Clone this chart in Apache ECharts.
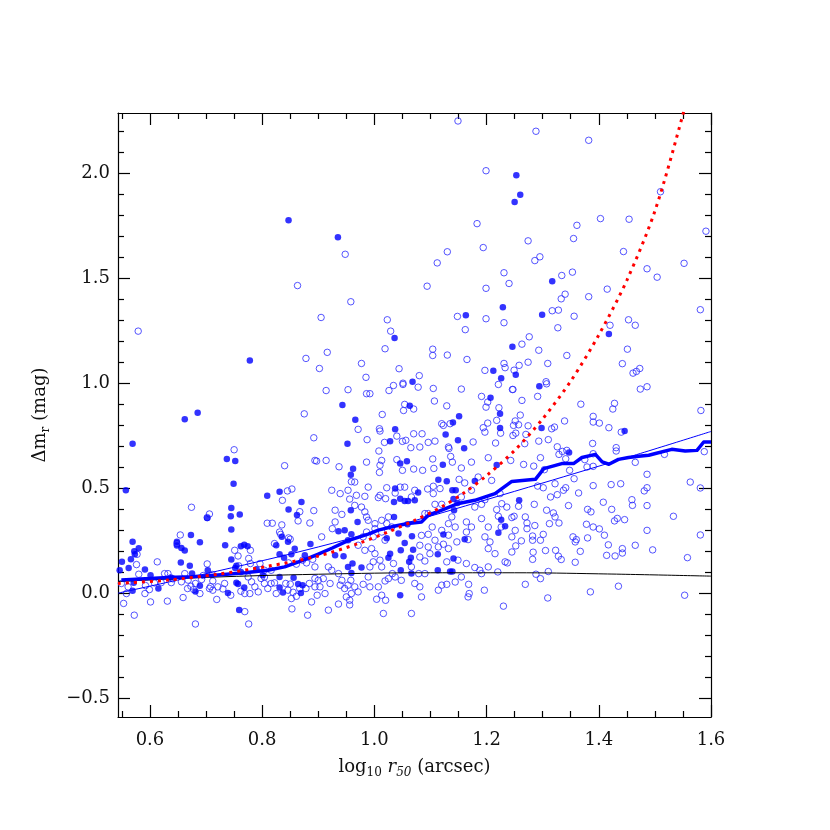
<!DOCTYPE html>
<html><head><meta charset="utf-8">
<script src="https://cdn.jsdelivr.net/npm/echarts@6/dist/echarts.min.js"></script>
<style>html,body{margin:0;padding:0;background:#fff}#c{width:830px;height:830px}</style>
</head><body><div id="c"></div>
<script>
const X_MIN = 0.543, X_MAX = 1.6;
const Y_MIN = -0.59, Y_MAX = 2.287;
const xTicks = [0.6, 0.8, 1.0, 1.2, 1.4, 1.6];
const xMinor = [0.55, 0.65, 0.7, 0.75, 0.85, 0.9, 0.95, 1.05, 1.1, 1.15, 1.25, 1.3, 1.35, 1.45, 1.5, 1.55];
const yTicks = [-0.5, 0, 0.5, 1.0, 1.5, 2.0];
const yMinor = [-0.4, -0.3, -0.2, -0.1, 0.1, 0.2, 0.3, 0.4, 0.6, 0.7, 0.8, 0.9, 1.1, 1.2, 1.3, 1.4, 1.6, 1.7, 1.8, 1.9, 2.1, 2.2];

// open circles (log10 r50, delta m_r)
const openPts = [
[0.948,1.614],[0.863,1.465],[0.958,1.388],[0.905,1.313],[1.023,1.302],[1.029,1.248],[0.579,1.248],[0.916,1.147],[1.019,1.164],[0.878,1.118],[0.977,1.094],[0.902,1.070],[1.044,1.069],[0.985,1.028],[1.051,1.000],
[1.149,2.249],[1.288,2.200],[1.382,2.157],[1.199,2.012],[1.510,1.912],[1.183,1.760],[1.361,1.752],[1.403,1.784],[1.454,1.781],[1.591,1.724],[1.355,1.689],[1.274,1.678],[1.130,1.626],[1.194,1.646],[1.112,1.573],[1.286,1.584],[1.295,1.602],[1.444,1.627],[1.094,1.462],[1.199,1.452],[1.231,1.526],[1.240,1.475],[1.334,1.513],[1.353,1.529],[1.486,1.545],[1.504,1.505],[1.552,1.571],[1.340,1.424],[1.333,1.402],[1.382,1.412],[1.415,1.448],[1.148,1.318],[1.199,1.307],[1.317,1.345],[1.328,1.348],[1.356,1.319],[1.581,1.350],[1.231,1.288],[1.162,1.255],[1.327,1.264],[1.420,1.276],[1.453,1.302],[1.465,1.276],[1.276,1.221],[1.263,1.186],[1.104,1.162],[1.104,1.132],[1.130,1.134],[1.165,1.113],[1.293,1.157],[1.343,1.132],[1.451,1.162],[1.442,1.093],[1.473,1.070],[1.467,1.056],[1.461,1.048],[1.274,1.100],[1.309,1.094],[1.231,1.094],[1.233,1.074],[1.258,1.085],[1.249,1.062],[1.197,1.061],[1.080,1.036],[1.306,1.007],
[0.875,0.854],[0.892,0.740],[0.897,0.629],[0.840,0.607],[0.853,0.496],[0.836,0.442],[0.845,0.487],[0.867,0.388],[0.864,0.344],[0.892,0.393],[0.885,0.334],[0.818,0.333],[0.809,0.333],[0.835,0.325],[0.831,0.291],[0.833,0.280],[0.847,0.263],[0.850,0.257],[0.822,0.236],[0.674,0.409],[0.706,0.377],[0.702,0.360],[0.750,0.683],[0.751,0.204],[0.757,0.177],[0.779,0.204],[0.758,0.130],[0.776,0.165],[0.779,0.141],[0.654,0.277],[0.648,0.236],[0.613,0.149],[0.702,0.139],[0.577,0.185],[0.576,0.136],[0.580,0.090],[0.626,0.093],[0.638,0.050],[0.620,0.050],[0.656,0.054],[0.668,0.062],[0.667,0.022],[0.678,0.017],[0.689,-0.002],[0.659,-0.021],[0.692,0.065],[0.712,0.058],[0.721,0.030],[0.712,0.014],[0.706,0.022],[0.733,0.046],[0.730,0.020],[0.744,-0.010],[0.719,-0.030],[0.708,0.031],[0.775,0.077],[0.781,0.054],[0.787,0.030],[0.793,0.006],[0.804,0.046],[0.798,0.070],[0.810,0.022],[0.816,0.046],[0.822,0.049],[0.825,-0.002],[0.778,-0.002],[0.769,-0.002],[0.762,0.009],[0.681,0.046],[0.673,0.033],[0.553,-0.049],[0.601,-0.042],[0.631,-0.038],[0.572,-0.105],[0.769,-0.088],[0.853,-0.075],[0.881,-0.105],[0.888,-0.042],[0.852,-0.026],[0.846,0.014],[0.861,-0.015],[0.867,0.022],[0.878,0.022],[0.884,0.046],[0.894,0.070],[0.894,0.030],[0.898,-0.010],[0.894,0.125],[0.879,0.144],[0.861,0.138],[0.890,0.161],[0.872,0.157],[0.847,0.144],[0.842,0.046],[0.850,0.043],[0.855,0.004],[0.816,0.109],[0.804,0.077],[0.796,0.141],[0.804,0.109],[0.561,0.030],[0.558,-0.002],[0.591,-0.002],[0.549,0.046],[0.599,0.017],[0.592,0.036],[0.632,0.093],[0.641,0.068],[0.608,0.049],[0.662,0.093],[0.711,0.089],[0.695,0.084],
[0.681,-0.147],[0.776,-0.147],[0.936,-0.052],[0.956,-0.056],
[0.914,0.965],[0.953,0.969],[0.986,0.950],[0.992,0.950],[1.026,0.965],[1.034,0.989],[1.051,0.994],[1.078,0.981],[1.105,0.975],[1.107,0.915],[1.129,0.892],[1.155,0.972],[1.191,0.937],[1.202,0.910],[1.199,0.886],[1.221,0.994],[1.246,0.970],[1.054,0.899],[1.052,0.870],[1.070,0.877],[1.014,0.851],[0.971,0.780],[1.009,0.783],[1.010,0.772],[0.987,0.731],[1.040,0.748],[1.018,0.718],[1.050,0.723],[1.056,0.728],[1.070,0.759],[1.085,0.759],[1.096,0.718],[1.065,0.693],[1.081,0.696],[1.008,0.677],[0.986,0.624],[1.013,0.632],[1.040,0.636],[1.010,0.609],[1.009,0.575],[1.050,0.585],[1.070,0.591],[1.086,0.585],[1.104,0.639],[1.106,0.594],[1.136,0.651],[1.133,0.689],[1.139,0.624],[1.155,0.596],[1.173,0.624],[1.120,0.807],[1.123,0.799],[1.135,0.807],[1.108,0.724],[1.132,0.696],[1.176,0.720],[1.194,0.788],[1.197,0.767],[1.202,0.810],[1.218,0.823],[1.222,0.883],[1.225,0.762],[1.216,0.715],[1.203,0.645],[1.243,0.632],[0.914,0.632],[0.937,0.602],[0.894,0.632],[0.924,0.490],[0.939,0.474],[0.953,0.490],[0.965,0.529],[0.959,0.531],[0.968,0.466],[0.956,0.448],[0.983,0.461],[0.989,0.505],[1.007,0.455],[1.010,0.466],[1.022,0.502],[1.020,0.450],[1.054,0.505],[1.046,0.505],[1.072,0.490],[1.066,0.458],[1.037,0.477],[1.095,0.496],[1.105,0.509],[1.105,0.474],[1.117,0.498],[1.151,0.542],[1.161,0.525],[1.185,0.553],[1.209,0.537],[1.227,0.426],[1.236,0.410],[1.218,0.398],[1.221,0.366],[1.191,0.355],[1.203,0.315],[1.197,0.268],[1.206,0.244],[1.203,0.212],[1.233,0.149],[1.237,0.144],[1.249,0.366],[1.226,0.315],[1.251,0.299],[1.215,0.188],[1.164,0.339],[1.173,0.315],[1.164,0.291],[1.167,0.255],[1.147,0.244],[1.149,0.157],[1.164,0.141],[1.179,0.122],[1.203,0.125],[1.220,0.101],[1.191,0.093],[1.155,0.077],[1.144,0.053],[1.120,0.038],[1.114,0.014],[1.129,0.042],[1.168,0.042],[1.169,-0.002],[1.167,-0.018],[1.196,0.014],[1.230,-0.062],[1.188,0.109],[1.090,0.379],[1.103,0.315],[1.096,0.280],[1.084,0.275],[1.081,0.228],[1.099,0.188],[1.081,0.172],[1.090,0.153],[1.066,0.125],[1.079,0.093],[1.090,0.093],[1.072,0.046],[1.081,0.030],[1.084,-0.018],[1.066,-0.097],[1.048,0.061],[1.037,0.077],[1.032,0.093],[1.025,0.069],[1.019,0.058],[1.013,0.125],[0.998,0.149],[0.992,0.125],[0.989,0.077],[0.992,0.030],[1.007,0.030],[1.013,-0.010],[1.020,-0.034],[1.004,-0.029],[1.016,-0.097],[0.980,0.042],[0.971,0.006],[0.965,0.030],[0.958,0.061],[0.953,0.038],[0.959,-0.002],[0.956,-0.034],[0.950,-0.018],[0.947,0.022],[0.939,0.038],[0.942,0.061],[0.936,0.093],[0.924,0.109],[0.918,0.125],[0.909,0.069],[0.903,0.030],[0.912,-0.002],[0.900,0.061],[0.921,0.046],[0.918,-0.081],[0.983,0.387],[0.986,0.363],[0.989,0.347],[1.001,0.331],[1.013,0.347],[1.022,0.331],[1.013,0.291],[1.001,0.307],[0.998,0.268],[0.980,0.268],[0.986,0.291],[0.971,0.228],[0.983,0.204],[0.995,0.212],[1.001,0.188],[1.010,0.157],[1.019,0.252],[1.025,0.363],[1.031,0.315],[1.096,0.379],[1.108,0.252],[1.096,0.220],[1.132,0.276],[1.120,0.299],[1.132,0.331],[1.144,0.315],[1.138,0.363],[1.132,0.212],[1.123,0.233],[1.114,0.220],[1.129,0.149],[1.034,0.141],[0.930,0.395],[0.942,0.375],[0.930,0.339],[0.925,0.307],[0.906,0.268],[0.965,0.418],[0.977,0.410],[1.108,0.423],[1.120,0.423],[1.155,0.458],[1.179,0.410],[1.191,0.423],[1.173,0.490],[1.197,0.445],[1.224,0.474],
[1.307,0.997],[1.247,0.970],[1.291,0.937],[1.263,0.918],[1.474,0.972],[1.486,0.983],[1.368,0.900],[1.428,0.904],[1.425,0.877],[1.260,0.848],[1.251,0.820],[1.248,0.799],[1.257,0.802],[1.274,0.797],[1.252,0.762],[1.270,0.756],[1.247,0.751],[1.268,0.712],[1.293,0.724],[1.310,0.731],[1.316,0.783],[1.321,0.791],[1.339,0.820],[1.390,0.842],[1.390,0.815],[1.401,0.810],[1.418,0.788],[1.440,0.767],[1.582,0.870],[1.389,0.713],[1.326,0.697],[1.335,0.675],[1.343,0.680],[1.341,0.640],[1.296,0.645],[1.329,0.661],[1.375,0.636],[1.390,0.664],[1.431,0.693],[1.431,0.677],[1.266,0.613],[1.284,0.605],[1.303,0.588],[1.348,0.585],[1.379,0.601],[1.390,0.604],[1.465,0.623],[1.517,0.661],[1.588,0.674],[1.356,0.545],[1.322,0.521],[1.291,0.510],[1.301,0.502],[1.341,0.502],[1.337,0.490],[1.390,0.512],[1.422,0.517],[1.439,0.521],[1.486,0.566],[1.486,0.502],[1.481,0.487],[1.563,0.529],[1.581,0.501],[1.364,0.477],[1.326,0.469],[1.314,0.458],[1.459,0.445],[1.460,0.418],[1.486,0.417],[1.408,0.433],[1.346,0.417],[1.285,0.423],[1.257,0.414],[1.307,0.395],[1.319,0.382],[1.322,0.363],[1.329,0.334],[1.312,0.331],[1.269,0.363],[1.272,0.334],[1.272,0.307],[1.286,0.322],[1.380,0.399],[1.386,0.387],[1.423,0.399],[1.433,0.356],[1.428,0.344],[1.446,0.350],[1.533,0.366],[1.378,0.328],[1.390,0.315],[1.401,0.306],[1.410,0.276],[1.486,0.299],[1.581,0.277],[1.282,0.272],[1.282,0.252],[1.296,0.252],[1.301,0.280],[1.354,0.268],[1.360,0.255],[1.358,0.244],[1.380,0.263],[1.417,0.230],[1.442,0.212],[1.442,0.191],[1.465,0.228],[1.496,0.206],[1.245,0.196],[1.252,0.225],[1.262,0.249],[1.283,0.195],[1.282,0.161],[1.305,0.203],[1.323,0.204],[1.328,0.176],[1.333,0.160],[1.358,0.147],[1.367,0.199],[1.414,0.180],[1.429,0.177],[1.558,0.169],[1.288,0.090],[1.296,0.069],[1.269,0.042],[1.310,0.103],[1.309,-0.023],[1.385,0.006],[1.435,0.033],[1.553,-0.010],[1.245,0.360],[1.245,0.268]
];

// filled circles
const filledPts = [
[0.847,1.776],[0.935,1.695],[1.036,1.215],[0.778,1.108],[1.068,1.007],
[1.253,1.990],[1.260,1.898],[1.250,1.863],[1.317,1.486],[1.229,1.362],[1.163,1.324],[1.299,1.326],[1.418,1.234],[1.246,1.174],[1.212,1.059],[1.252,1.040],[1.226,1.024],
[0.662,0.828],[0.685,0.859],[0.569,0.712],[0.557,0.490],[0.737,0.639],[0.752,0.629],[0.749,0.521],[0.745,0.406],[0.744,0.366],[0.760,0.375],[0.745,0.303],[0.702,0.358],[0.673,0.277],[0.689,0.242],[0.648,0.245],[0.648,0.227],[0.656,0.215],[0.662,0.203],[0.655,0.146],[0.671,0.130],[0.675,0.093],[0.569,0.245],[0.572,0.200],[0.573,0.185],[0.580,0.214],[0.566,0.161],[0.550,0.150],[0.562,0.120],[0.546,0.109],[0.591,0.112],[0.601,0.085],[0.571,0.050],[0.569,0.011],[0.615,0.022],[0.637,0.074],[0.681,0.008],[0.689,0.035],[0.703,0.109],[0.734,0.228],[0.762,0.223],[0.768,0.230],[0.774,0.223],[0.752,0.120],[0.754,0.130],[0.762,0.101],[0.745,0.160],[0.739,0.001],[0.754,0.049],[0.757,0.043],[0.768,0.027],[0.790,0.114],[0.809,0.464],[0.831,0.483],[0.847,0.398],[0.862,0.372],[0.870,0.434],[0.825,0.228],[0.835,0.268],[0.846,0.245],[0.858,0.212],[0.852,0.185],[0.839,0.168],[0.831,0.185],[0.876,0.180],[0.886,0.234],[0.831,0.077],[0.837,0.003],[0.831,0.027],[0.856,0.073],[0.864,0.043],[0.872,0.038],[0.869,0.001],[0.759,-0.080],[0.801,0.085],
[0.943,0.896],[0.966,0.826],[0.952,0.712],[1.037,0.781],[1.028,0.723],[1.063,0.892],[1.046,0.617],[1.058,0.628],[0.962,0.593],[0.958,0.564],[0.958,0.395],[0.970,0.339],[0.947,0.299],[0.936,0.295],[0.959,0.280],[0.953,0.252],[1.037,0.498],[1.035,0.434],[1.054,0.439],[1.060,0.439],[1.046,0.450],[1.072,0.442],[1.078,0.479],[1.035,0.363],[1.059,0.328],[1.043,0.284],[1.022,0.261],[1.028,0.188],[1.025,0.169],[1.047,0.204],[1.054,0.239],[1.069,0.207],[1.065,0.169],[1.062,0.149],[1.047,0.109],[1.066,0.093],[1.046,-0.010],[0.959,0.096],[0.977,0.122],[0.953,0.125],[0.945,0.176],[0.930,0.180],[0.961,0.141],[1.067,0.271],[1.113,0.185],[1.123,0.279],[1.141,0.165],[1.161,0.257],[1.113,0.109],[1.135,0.103],[1.139,0.103],[1.122,0.612],[1.127,0.756],[1.129,0.533],[1.114,0.540],[1.139,0.490],[1.145,0.490],[1.141,0.448],[1.148,0.429],[1.142,0.395],[1.140,0.813],[1.151,0.842],[1.149,0.728],[1.160,0.690],[1.179,0.534],[1.207,0.931],[1.224,0.854],[1.224,0.786],[1.218,0.610],[1.226,0.350],[1.233,0.318],[1.221,0.288],
[1.294,0.986],[1.298,0.786],[1.347,0.670],[1.446,0.772],[1.258,0.442]
];

// running median (thick blue)
const medianLine = [[0.549,0.062],[0.600,0.070],[0.632,0.075],[0.674,0.078],[0.721,0.086],[0.769,0.097],[0.810,0.109],[0.840,0.125],[0.876,0.160],[0.899,0.185],[0.925,0.215],[0.953,0.250],[0.989,0.281],[1.007,0.300],[1.037,0.320],[1.060,0.332],[1.084,0.339],[1.096,0.371],[1.120,0.395],[1.150,0.427],[1.179,0.442],[1.215,0.474],[1.245,0.532],[1.287,0.542],[1.302,0.593],[1.334,0.617],[1.355,0.617],[1.370,0.646],[1.394,0.661],[1.406,0.625],[1.418,0.614],[1.435,0.637],[1.453,0.646],[1.471,0.652],[1.489,0.657],[1.501,0.665],[1.530,0.685],[1.554,0.677],[1.575,0.680],[1.587,0.720],[1.600,0.720]];
// thin blue fit
const fitLine = [[0.543,0.000],[0.720,0.105],[0.900,0.220],[1.075,0.348],[1.250,0.485],[1.425,0.625],[1.600,0.770]];
// thin black curve
const blackCurve = [[0.543,0.055],[0.700,0.075],[0.900,0.090],[1.100,0.097],[1.250,0.097],[1.400,0.092],[1.600,0.081]];
// red dotted curve
const redCurve = [[0.543,0.046],[0.632,0.062],[0.721,0.090],[0.810,0.128],[0.899,0.176],[0.971,0.236],[1.025,0.292],[1.072,0.347],[1.120,0.411],[1.162,0.482],[1.200,0.560],[1.250,0.680],[1.300,0.830],[1.350,1.010],[1.400,1.230],[1.450,1.490],[1.500,1.820],[1.550,2.280],[1.560,2.400]];

const FONT = 'DejaVu Serif';
const fmt = v => (v < 0 ? '\u2212' : '') + Math.abs(v).toFixed(1);

function xAx(pos, vals, len, withLabel) {
  const a = {
    type: 'value', min: X_MIN, max: X_MAX, position: pos,
    axisLine: { show: withLabel !== null, onZero: false, lineStyle: { color: '#000', width: 1.2 } },
    axisTick: { show: true, inside: true, length: len, customValues: vals, lineStyle: { color: '#000', width: 1.2 } },
    axisLabel: { show: false },
    splitLine: { show: false }
  };
  if (withLabel) {
    a.axisLabel = { show: true, customValues: vals, formatter: fmt, margin: 14, fontFamily: FONT, fontSize: 18, color: '#111' };
    a.name = '{n|log}{s|10}{n| }{i|r}{si|50}{n| (arcsec)}';
    a.nameLocation = 'middle';
    a.nameGap = 38;
    a.nameTextStyle = {
      fontFamily: FONT, fontSize: 18, color: '#111',
      rich: {
        n: { fontFamily: FONT, fontSize: 18, lineHeight: 24, color: '#111' },
        s: { fontFamily: FONT, fontSize: 12, lineHeight: 12, verticalAlign: 'bottom', color: '#111' },
        i: { fontFamily: FONT, fontSize: 18, lineHeight: 24, fontStyle: 'italic', color: '#111' },
        si: { fontFamily: FONT, fontSize: 12, lineHeight: 12, verticalAlign: 'bottom', fontStyle: 'italic', color: '#111' }
      }
    };
  }
  return a;
}
function yAx(pos, vals, len, withLabel) {
  const a = {
    type: 'value', min: Y_MIN, max: Y_MAX, position: pos,
    axisLine: { show: withLabel !== null, onZero: false, lineStyle: { color: '#000', width: 1.2 } },
    axisTick: { show: true, inside: true, length: len, customValues: vals, lineStyle: { color: '#000', width: 1.2 } },
    axisLabel: { show: false },
    splitLine: { show: false }
  };
  if (withLabel) {
    a.axisLabel = { show: true, customValues: vals, formatter: fmt, margin: 8, fontFamily: FONT, fontSize: 18, color: '#111' };
    a.name = '{n|\u0394m}{s|r}{n| (mag)}';
    a.nameLocation = 'middle';
    a.nameGap = 66;
    a.nameRotate = 90;
    a.nameTextStyle = {
      fontFamily: FONT, fontSize: 18, color: '#111',
      rich: {
        n: { fontFamily: FONT, fontSize: 18, lineHeight: 24, color: '#111' },
        s: { fontFamily: FONT, fontSize: 12, lineHeight: 12, verticalAlign: 'bottom', color: '#111' }
      }
    };
  }
  return a;
}

const chart = echarts.init(document.getElementById('c'), null, { renderer: 'canvas' });
chart.setOption({
  animation: false,
  backgroundColor: '#fff',
  grid: { left: 118, right: 119, top: 113, bottom: 113, containLabel: false },
  xAxis: [
    xAx('bottom', xTicks, 12, true),
    xAx('bottom', xMinor, 6, null),
    xAx('top', xTicks, 12, false),
    xAx('top', xMinor, 6, null)
  ],
  yAxis: [
    yAx('left', yTicks, 12, true),
    yAx('left', yMinor, 6, null),
    yAx('right', yTicks, 12, false),
    yAx('right', yMinor, 6, null)
  ],
  series: [
    { type: 'scatter', data: openPts, symbol: 'circle', symbolSize: 6.5,
      itemStyle: { color: 'rgba(0,0,0,0)', borderColor: '#2a2aff', borderWidth: 1 } },
    { type: 'scatter', data: filledPts, symbol: 'circle', symbolSize: 6.5,
      itemStyle: { color: '#0000ff', borderWidth: 0 } },
    { type: 'line', data: blackCurve, smooth: 0.4, showSymbol: false, symbol: 'none',
      lineStyle: { color: '#000', width: 1 } },
    { type: 'line', data: fitLine, smooth: 0.4, showSymbol: false, symbol: 'none',
      lineStyle: { color: '#0000ff', width: 1 } },
    { type: 'line', data: medianLine, showSymbol: false, symbol: 'none',
      lineStyle: { color: '#0000ff', width: 3.5, join: 'round' } },
    { type: 'line', data: redCurve, smooth: 0.3, showSymbol: false, symbol: 'none', clip: true,
      lineStyle: { color: '#ff0000', width: 3, type: [3, 5] } }
  ]
});
</script>
</body></html>
